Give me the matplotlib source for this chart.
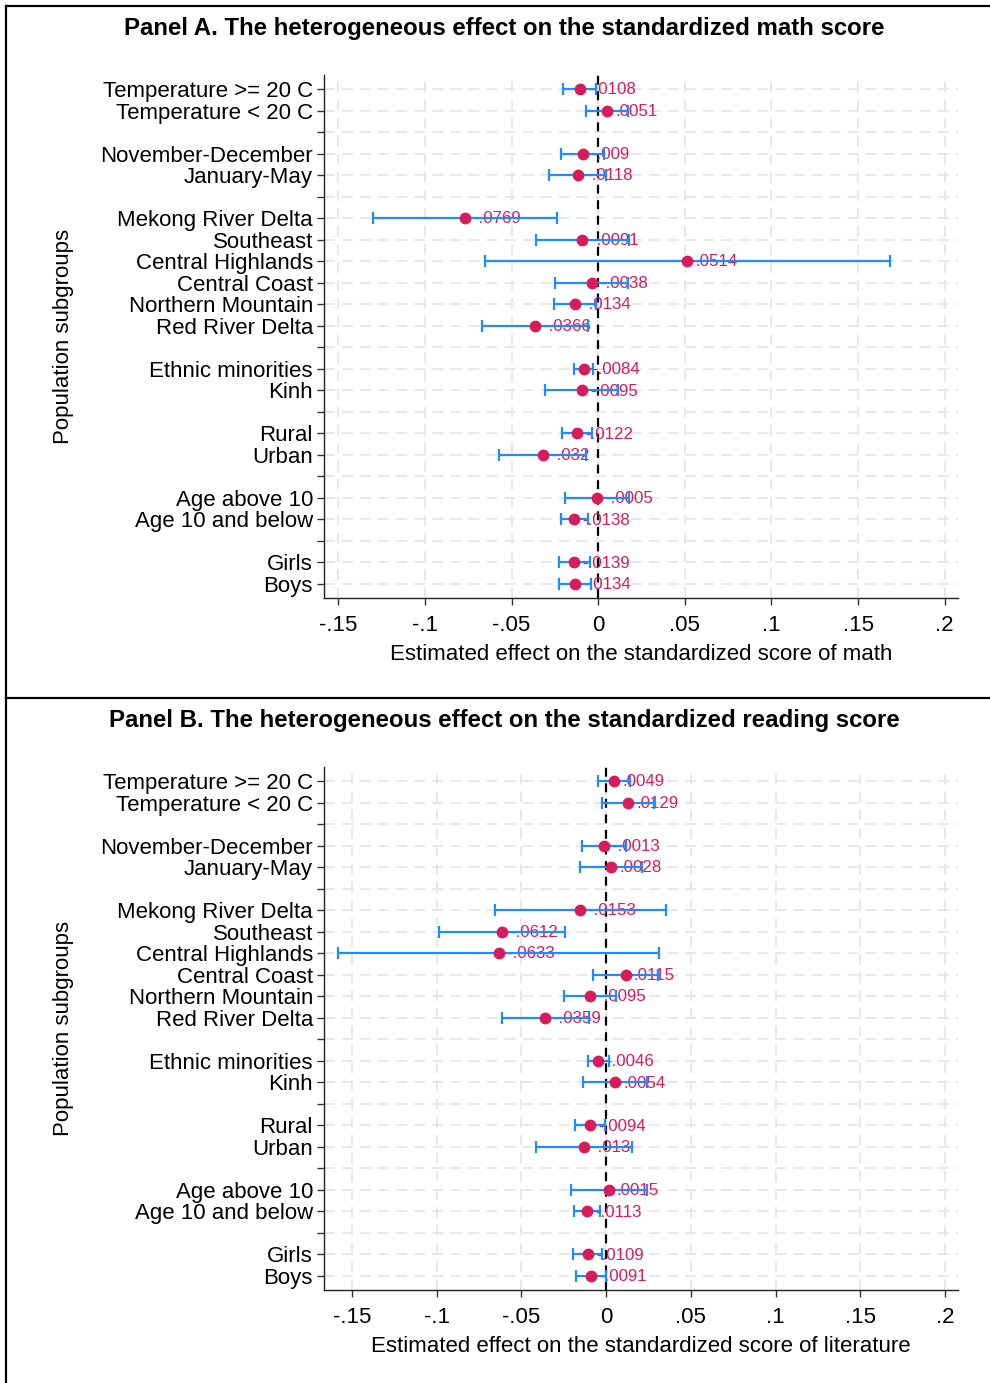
import matplotlib.pyplot as plt
import numpy as np
from matplotlib.lines import Line2D

plt.rcParams['font.family'] = ['Liberation Sans', 'DejaVu Sans']

# row labels, top to bottom ('' = spacer row between groups)
rows = ['Temperature >= 20 C', 'Temperature < 20 C', '',
        'November-December', 'January-May', '',
        'Mekong River Delta', 'Southeast', 'Central Highlands', 'Central Coast',
        'Northern Mountain', 'Red River Delta', '',
        'Ethnic minorities', 'Kinh', '',
        'Rural', 'Urban', '',
        'Age above 10', 'Age 10 and below', '',
        'Girls', 'Boys']

# panel A: math (None = spacer)
math_coef = [-0.0108, 0.0051, None, -0.009, -0.0118, None,
             -0.0769, -0.0091, 0.0514, -0.0038, -0.0134, -0.0366, None,
             -0.0084, -0.0095, None, -0.0122, -0.032, None,
             -0.0005, -0.0138, None, -0.0139, -0.0134]
math_lo = [-0.0205, -0.0069, None, -0.0215, -0.0283, None,
           -0.1298, -0.0361, -0.0654, -0.0250, -0.0254, -0.0671, None,
           -0.0140, -0.0306, None, -0.0208, -0.0571, None,
           -0.0190, -0.0217, None, -0.0229, -0.0227]
math_hi = [-0.0011, 0.0171, None, 0.0035, 0.0047, None,
           -0.0240, 0.0179, 0.1682, 0.0174, -0.0014, -0.0061, None,
           -0.0028, 0.0116, None, -0.0036, -0.0069, None,
           0.0180, -0.0059, None, -0.0049, -0.0041]

# panel B: reading / literature
read_coef = [0.0049, 0.0129, None, -0.0013, 0.0028, None,
             -0.0153, -0.0612, -0.0633, 0.0115, -0.0095, -0.0359, None,
             -0.0046, 0.0054, None, -0.0094, -0.013, None,
             0.0015, -0.0113, None, -0.0109, -0.0091]
read_lo = [-0.0045, -0.0024, None, -0.0142, -0.0155, None,
           -0.0657, -0.0984, -0.1581, -0.0079, -0.0247, -0.0616, None,
           -0.0108, -0.0136, None, -0.0183, -0.0413, None,
           -0.0210, -0.0189, None, -0.0195, -0.0179]
read_hi = [0.0143, 0.0282, None, 0.0116, 0.0211, None,
           0.0351, -0.0240, 0.0315, 0.0309, 0.0057, -0.0102, None,
           0.0016, 0.0244, None, -0.0005, 0.0153, None,
           0.0240, -0.0037, None, -0.0023, -0.0003]

xticks = [-0.15, -0.1, -0.05, 0, 0.05, 0.1, 0.15, 0.2]
xticklabels = ['-.15', '-.1', '-.05', '0', '.05', '.1', '.15', '.2']

RED = '#D81B5A'
BLUE = '#1E8CFF'
W, H = 990, 1383
AX_L, AX_R = 324, 958


def fmt(v):
    s = f'{v:.4f}'.rstrip('0')
    return s.replace('0.', '.', 1)


def panel(ax, coef, lo, hi, xmin, xlabel):
    pos = np.arange(1, len(rows) + 1)
    ax.set_xlim(xmin, 0.2077)
    ax.set_ylim(len(rows) + 0.65, 0.35)
    for p, c, l, h in zip(pos, coef, lo, hi):
        if c is None:
            continue
        ax.annotate(fmt(c), (c, p), xytext=(6, -0.5), textcoords='offset points',
                    ha='left', va='center', color=RED, fontsize=12.2, zorder=3)
        ax.errorbar([c], [p], xerr=[[c - l], [h - c]], fmt='none', ecolor=BLUE,
                    elinewidth=1.6, capsize=4, capthick=1.6, zorder=4)
        ax.plot([c], [p], 'o', color=RED, ms=7.5, zorder=5)
    ax.axvline(0, color='black', lw=1.6, ls=(0, (4, 3)), zorder=2)
    ax.set_yticks(pos)
    ax.set_yticklabels(rows, fontsize=16)
    ax.set_xticks(xticks)
    ax.set_xticklabels(xticklabels, fontsize=16)
    ax.tick_params(direction='out', length=5, width=1, color='#333333')
    ax.tick_params(axis='x', pad=7)
    ax.tick_params(axis='y', pad=3)
    ax.grid(True, color='#E6E6E6', lw=1.3, ls=(0, (6, 4)), zorder=0)
    ax.set_axisbelow(True)
    for s in ['top', 'right']:
        ax.spines[s].set_visible(False)
    for s in ['left', 'bottom']:
        ax.spines[s].set_color('#222222')
        ax.spines[s].set_linewidth(1)
    ax.set_xlabel(xlabel, fontsize=16, labelpad=6)
    ax.set_ylabel('Population subgroups', fontsize=16)
    ax.yaxis.set_label_coords(-(AX_L - 74) / (AX_R - AX_L), 0.5)


fig = plt.figure(figsize=(W / 100, H / 100), dpi=100)


def add_axes(left, top, right, bottom):
    return fig.add_axes([left / W, 1 - bottom / H, (right - left) / W, (bottom - top) / H])


axA = add_axes(AX_L, 75, AX_R, 598)
panel(axA, math_coef, math_lo, math_hi, -0.1583,
      'Estimated effect on the standardized score of math')
axB = add_axes(AX_L, 767, AX_R, 1290)
panel(axB, read_coef, read_lo, read_hi, -0.1665,
      'Estimated effect on the standardized score of literature')

fig.text(504 / W, 1 - 28 / H, 'Panel A. The heterogeneous effect on the standardized math score',
         ha='center', va='center', fontsize=17.3, fontweight='bold')
fig.text(504 / W, 1 - 721 / H, 'Panel B. The heterogeneous effect on the standardized reading score',
         ha='center', va='center', fontsize=17.3, fontweight='bold')

# panel frames
for xs, ys in [([6, 990], [6, 6]), ([6, 6], [6, 1383]), ([6, 990], [698, 698])]:
    fig.add_artist(Line2D([x / W for x in xs], [1 - y / H for y in ys],
                          color='black', lw=1.6, transform=fig.transFigure))

fig.savefig('out.png', dpi=100)
